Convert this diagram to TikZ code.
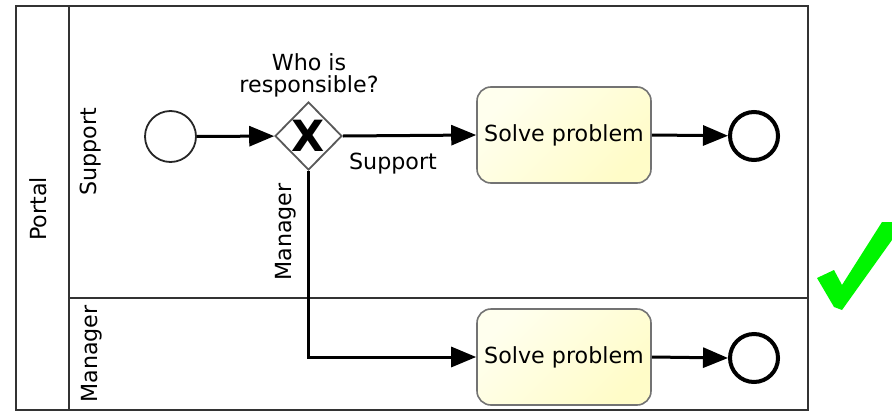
\documentclass[tikz,border=0pt]{standalone}
\usepackage{fontspec}
\setmainfont{DejaVu Sans}
\usetikzlibrary{shapes.geometric,arrows.meta}
\definecolor{chk}{RGB}{0,245,0}
\definecolor{taskA}{RGB}{255,255,238}
\definecolor{taskB}{RGB}{255,252,200}
\tikzset{
  lbl/.style={font=\fontsize{11.1}{11}\selectfont, inner sep=0pt, align=center},
  poolline/.style={line width=1.1pt, draw=black!80},
  flow/.style={line width=1.5pt, -{Triangle[length=12.5pt,width=10pt]}},
  startev/.style={circle, draw=black!85, line width=0.9pt, minimum size=25.5pt, inner sep=0pt, fill=white},
  endev/.style={circle, draw=black, line width=2pt, minimum size=24pt, inner sep=0pt, fill=white},
  gateway/.style={diamond, draw=black!65, line width=0.9pt, minimum width=33.5pt, minimum height=34pt, inner sep=0pt, fill=white},
  task/.style={rectangle, rounded corners=7pt, draw=black!55, line width=0.8pt, minimum width=87pt, minimum height=48pt, inner sep=0pt, left color=taskA, right color=taskB, shading angle=45, font=\fontsize{11.1}{11}\selectfont}
}
\begin{document}
\begin{tikzpicture}[x=0.5pt,y=-0.5pt]
\useasboundingbox (0,0) rectangle (892,412);
% pool and lanes
\draw[poolline] (16,6) rectangle (808,410);
\draw[poolline] (69,6) -- (69,410);
\draw[poolline] (69,298) -- (808,298);
\node[lbl, rotate=90] (pool) at (38.5,209) {Portal};
\node[lbl, rotate=90] (lsup) at (91,152) {Support};
\node[lbl, rotate=90] (lman) at (92,354) {Manager};
% nodes
\node[startev] (st) at (170.5,136.5) {};
\node[gateway] (gw) at (308.5,136) {};
\node[font=\fontsize{21.5}{21.5}\selectfont\bfseries, inner sep=0pt] (gwx) at (308.5,136) {X};
\node[lbl] (gwl) at (309,75) {Who is\\responsible?};
\node[task] (t1) at (564,135) {Solve problem};
\node[endev] (e1) at (754,136) {};
\node[task] (t2) at (564,357) {Solve problem};
\node[endev] (e2) at (754,358) {};
% flows
\draw[flow] (st) -- (gw);
\draw[flow] (gw.east) -- (t1.west);
\draw[flow] (t1.east) -- (e1);
\draw[flow] (gw.south) |- (t2.west);
\draw[flow] (t2.east) -- (e2.west);
\node[lbl] (fsup) at (393,164) {Support};
\node[lbl, rotate=90] (fman) at (285.5,232) {Manager};
% check mark
\fill[chk] (817,278) -- (834,270) -- (842,285) -- (882,222) -- (892,222) -- (892,240) -- (842,310) -- (834,307) -- cycle;
\end{tikzpicture}
\end{document}
